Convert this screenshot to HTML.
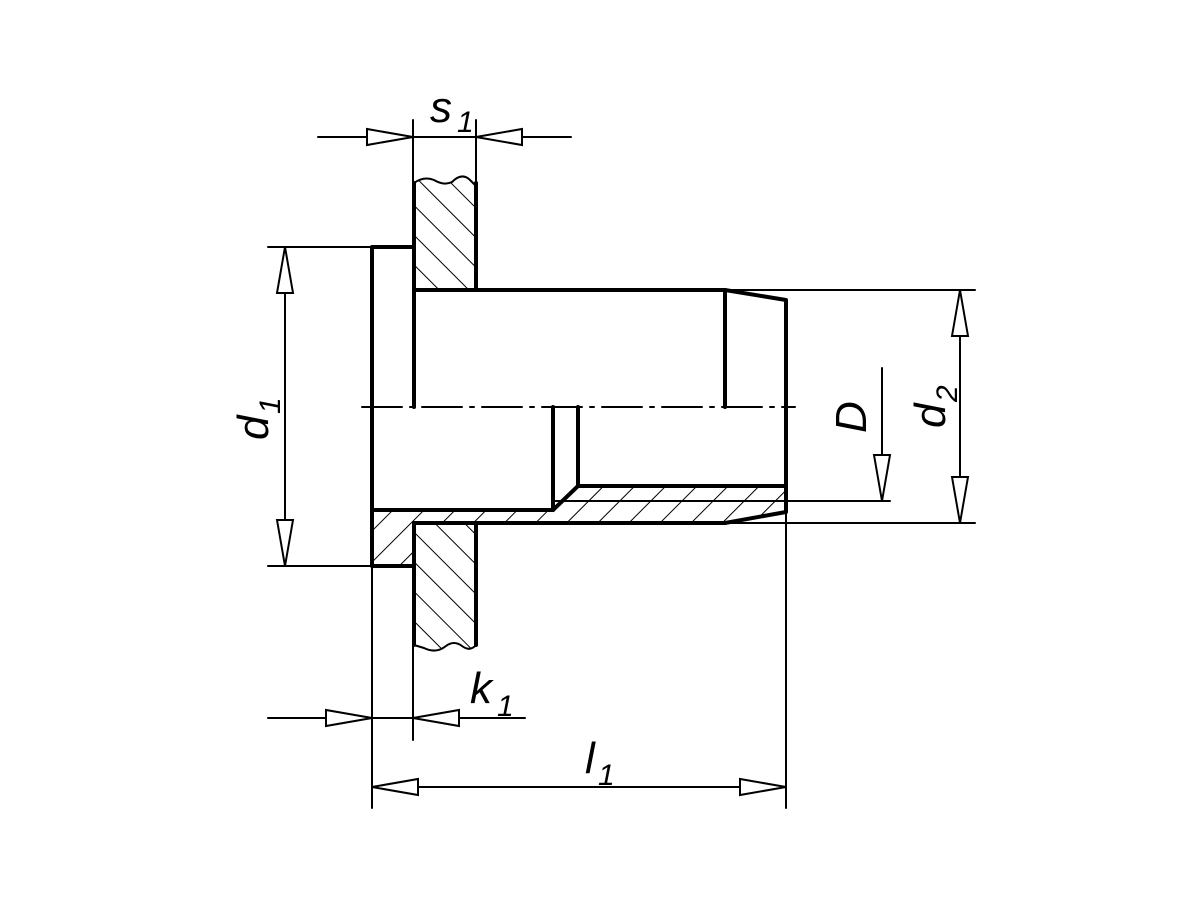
<!DOCTYPE html>
<html><head><meta charset="utf-8"><style>
html,body{margin:0;padding:0;background:#fff;}
svg{display:block;}
text{font-family:"Liberation Sans",sans-serif;font-style:italic;fill:#000;}
</style></head><body>
<svg width="1200" height="900" viewBox="0 0 1200 900" xmlns="http://www.w3.org/2000/svg">
<defs>
<pattern id="hb" patternUnits="userSpaceOnUse" width="21" height="21" patternTransform="rotate(-45)">
<line x1="0" y1="0" x2="0" y2="21" stroke="#000" stroke-width="2"/>
</pattern>
<pattern id="hf" patternUnits="userSpaceOnUse" width="22" height="22" patternTransform="rotate(45)">
<line x1="0" y1="0" x2="0" y2="22" stroke="#000" stroke-width="2"/>
</pattern>
<g id="arr"><polygon points="0,0 -46,-8 -46,8" fill="#fff" stroke="#000" stroke-width="2"/></g>
</defs>

<path d="M414,183 Q424,176 434,180 Q444,186 452,182 Q462,172 470,180 L476,186 L476,290 L414,290 Z" fill="url(#hb)"/>
<path d="M414,523 L476,523 L476,645 Q470,652 462,646 Q454,640 446,646 Q436,654 424,648 L414,645 Z" fill="url(#hb)"/>
<path d="M372,510 L553,510 L578,486 L786,486 L786,512 L725,523 L414,523 L414,566 L372,566 Z" fill="url(#hf)"/>

<g fill="none" stroke="#000" stroke-linecap="round" stroke-linejoin="round">
<path d="M414,183 Q424,176 434,180 Q444,186 452,182 Q462,172 470,180 L476,186" stroke-width="2"/>
<path d="M476,645 Q470,652 462,646 Q454,640 446,646 Q436,654 424,648 L414,645" stroke-width="2"/>
<line x1="476" y1="183" x2="476" y2="290" stroke-width="4"/>
<line x1="414" y1="183" x2="414" y2="247" stroke-width="4"/>
<line x1="476" y1="523" x2="476" y2="645" stroke-width="4"/>
<line x1="414" y1="523" x2="414" y2="645" stroke-width="4"/>

<path d="M414,407 L414,247 L372,247 L372,566 L414,566" stroke-width="4"/>
<path d="M414,290 L725,290 L786,300 L786,512 L725,523 L414,523" stroke-width="4"/>
<line x1="725" y1="290" x2="725" y2="407" stroke-width="4"/>
<path d="M372,510 L553,510 L553,407" stroke-width="4"/>
<path d="M553,510 L578,486 L786,486" stroke-width="4"/>
<line x1="578" y1="407" x2="578" y2="486" stroke-width="4"/>

<path d="M362,407 L795,407" stroke-width="2" stroke-dasharray="40,8,4,8"/>

<g stroke-width="2">
<line x1="413" y1="120" x2="413" y2="183"/>
<line x1="476" y1="120" x2="476" y2="183"/>
<line x1="268" y1="247" x2="372" y2="247"/>
<line x1="268" y1="566" x2="372" y2="566"/>
<line x1="725" y1="290" x2="975" y2="290"/>
<line x1="725" y1="523" x2="975" y2="523"/>
<line x1="786" y1="501" x2="890" y2="501"/>
<line x1="553" y1="501" x2="786" y2="501"/>
<line x1="372" y1="566" x2="372" y2="808"/>
<line x1="786" y1="512" x2="786" y2="808"/>
<line x1="413" y1="645" x2="413" y2="740"/>
<line x1="318" y1="137" x2="571" y2="137"/>
<line x1="285" y1="247" x2="285" y2="566"/>
<line x1="960" y1="290" x2="960" y2="523"/>
<line x1="882" y1="368" x2="882" y2="501"/>
<line x1="268" y1="718" x2="525" y2="718"/>
<line x1="372" y1="787" x2="786" y2="787"/>
</g>
</g>

<use href="#arr" transform="translate(413,137)"/>
<use href="#arr" transform="translate(476,137) rotate(180)"/>
<use href="#arr" transform="translate(285,247) rotate(-90)"/>
<use href="#arr" transform="translate(285,566) rotate(90)"/>
<use href="#arr" transform="translate(960,290) rotate(-90)"/>
<use href="#arr" transform="translate(960,523) rotate(90)"/>
<use href="#arr" transform="translate(882,501) rotate(90)"/>
<use href="#arr" transform="translate(372,718)"/>
<use href="#arr" transform="translate(413,718) rotate(180)"/>
<use href="#arr" transform="translate(372,787) rotate(180)"/>
<use href="#arr" transform="translate(786,787)"/>

<text x="430" y="122" font-size="44">s</text>
<text x="457" y="132" font-size="30">1</text>
<text x="470" y="703" font-size="44">k</text>
<text x="497" y="716" font-size="30">1</text>
<text x="585" y="773" font-size="44">l</text>
<text x="598" y="785" font-size="30">1</text>
<g transform="translate(268,440) rotate(-90)">
<text x="0" y="0" font-size="44">d</text>
<text x="26" y="12" font-size="30">1</text>
</g>
<g transform="translate(866,433) rotate(-90)">
<text x="0" y="0" font-size="44">D</text>
</g>
<g transform="translate(945,428) rotate(-90)">
<text x="0" y="0" font-size="44">d</text>
<text x="26" y="12" font-size="30">2</text>
</g>
</svg>
</body></html>
